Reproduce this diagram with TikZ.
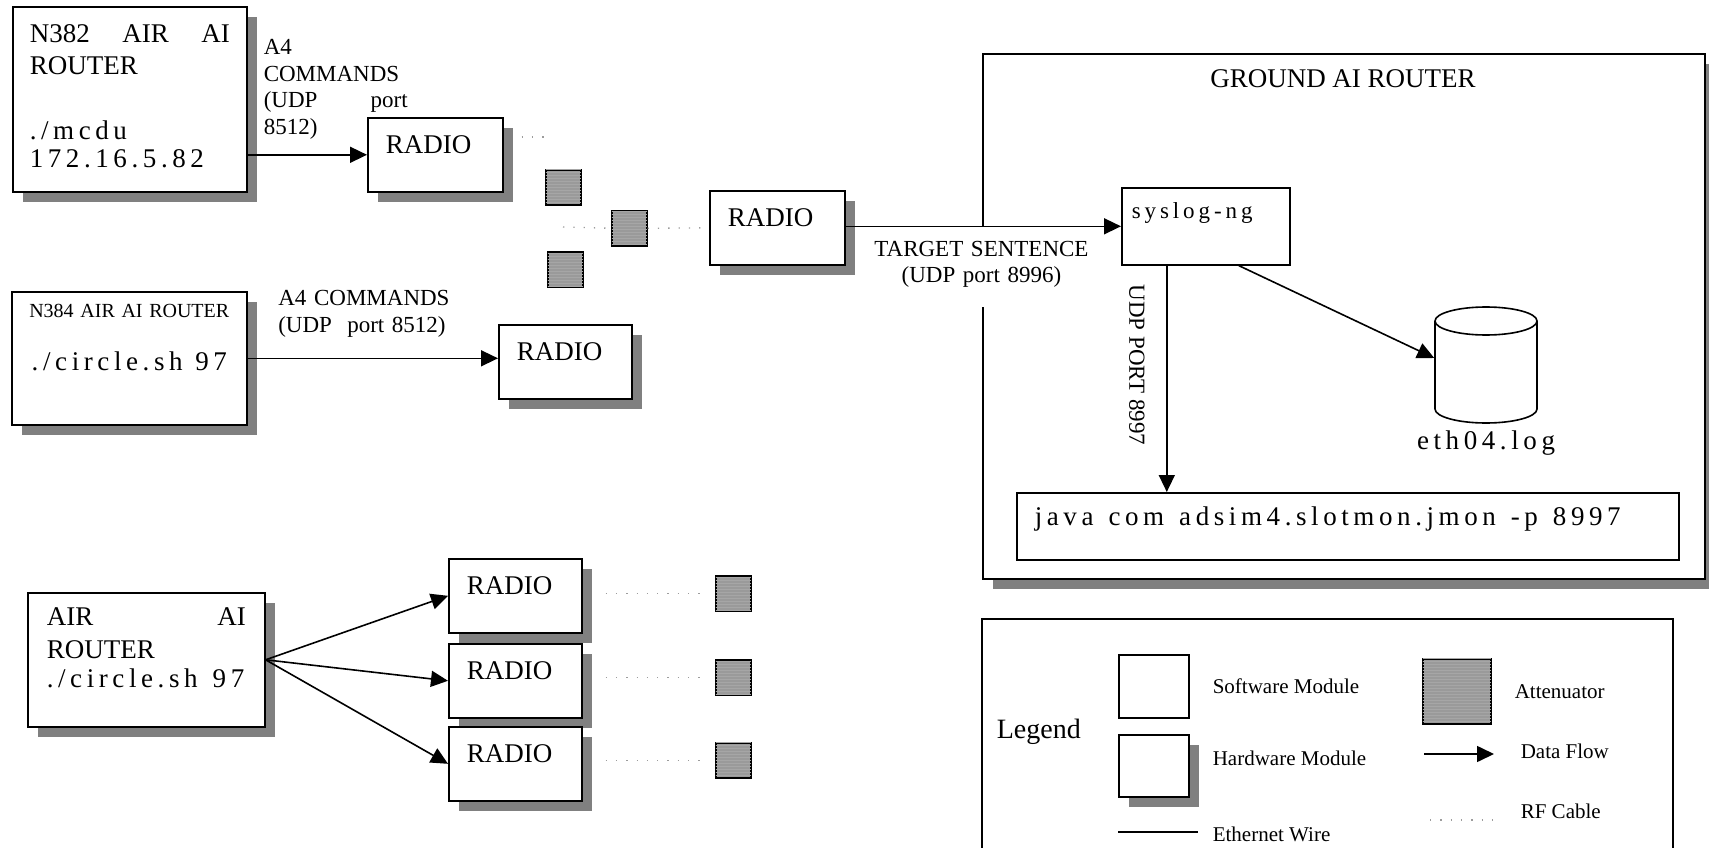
\documentclass[tikz,border=0pt]{standalone}
\usepackage{fontspec}
\setmainfont{Liberation Serif}
\newfontfamily\spacedfont[LetterSpace=17]{Liberation Serif}
\usetikzlibrary{arrows.meta,positioning,shadows,patterns}
\definecolor{Sombra}{HTML}{808080}
\definecolor{Punteado}{HTML}{9C9C9C}
\definecolor{Atenuador}{HTML}{9A9A9A}
\newcommand\boxfont{\fontsize{27}{32}\selectfont}
\newcommand\labelfont{\fontsize{23}{26.5}\selectfont}
\newcommand\smallfont{\fontsize{20}{24}\selectfont}
\newcommand\legendfont{\fontsize{21}{25}\selectfont}
\newcommand\codefont{\fontsize{27}{27}\selectfont\spacedfont}
\newcommand\smallcode{\fontsize{23}{23}\selectfont\spacedfont}
\newcommand\wsp{\hspace{6pt}}

\begin{document}
\begin{tikzpicture}[x=1pt,y=-1pt,>=Latex,line width=1.6pt,every node/.style={inner sep=0pt},
  box/.style={draw,fill=white,anchor=north west,align=left,font=\boxfont},
  hwbox/.style={box,drop shadow={shadow xshift=10pt,shadow yshift=-10pt,fill=Sombra,opacity=1}},
  radio/.style={hwbox,minimum width=135pt,minimum height=74pt,text width=99pt,inner xsep=18pt,text height=18.3pt,text depth=20.3pt},
  att/.style={draw,fill=Atenuador,minimum size=35pt,anchor=north west,postaction={pattern=horizontal lines,pattern color=black!35}},
  flow/.style={-{Triangle[length=17pt,width=16pt]}},
  rf/.style={Punteado,line width=1.3pt,dash pattern=on 1.3pt off 9pt},
  lbl/.style={font=\labelfont,anchor=north west,align=left},
  keytext/.style={font=\legendfont,anchor=base west}]
\useasboundingbox (0,0) rectangle (1709,848);

% air side
\node[hwbox,minimum width=234pt,minimum height=185pt,text width=200pt,inner xsep=17pt,text height=18.3pt,text depth=131.9pt] (n382) at (12,6) {N382\hfill AIR\hfill AI\\ROUTER\\[32.7pt]{\codefont ./mcdu}\\[-3.3pt]{\codefont 172.16.5.82}};
\node[radio] (radioA) at (367,117) {RADIO};
\node[lbl,text width=144pt,text height=15.5pt] (cmd382) at (263,38.5) {A4\\COMMANDS\\(UDP\hfill port\\8512)};
\node[att] (att1) at (545,169) {};
\node[att] (att2) at (611,210) {};
\node[att] (att3) at (547,251) {};
\node[radio] (radioG) at (709,190) {RADIO};
\coordinate (rfend) at (549,137);
\coordinate (rfstart) at (563,227);

\node[hwbox,font=\smallfont,align=center,minimum width=235pt,minimum height=133pt,text width=220pt,text height=13.5pt,text depth=95.1pt] (n384) at (11,291) {N384 AIR AI ROUTER\\[29.3pt]{\codefont ./circle.sh \wsp 97}};
\node[radio,minimum width=133pt,text width=97pt] (radioB) at (498,324) {RADIO};
\node[lbl,text width=180pt,text height=15.5pt] (cmd384) at (277.5,289.5) {A4 COMMANDS\\(UDP~~port 8512)};

\node[hwbox,minimum width=237pt,minimum height=134pt,text width=199pt,inner xsep=19pt,text height=18.3pt,text depth=86.3pt] (air) at (27,592) {AIR\hfill AI\\[1pt]ROUTER\\[-3.3pt]{\codefont ./circle.sh \wsp 97}};
\node[radio,minimum width=133pt,text width=97pt] (radioC1) at (448,558) {RADIO};
\node[radio,minimum width=133pt,text width=97pt] (radioC2) at (448,643) {RADIO};
\node[radio,minimum width=133pt,text width=97pt] (radioC3) at (448,726) {RADIO};
\node[att] (attC1) at (715,575) {};
\node[att] (attC2) at (715,659) {};
\node[att] (attC3) at (715,742) {};

% ground side
\node[hwbox,minimum width=722pt,minimum height=525pt] (ground) at (982,53) {};
\node[font=\boxfont,anchor=base] (gtitle) at (1343,88) {GROUND AI ROUTER};
\node[box,font=\smallcode,minimum width=168pt,minimum height=77pt,text width=148pt,inner xsep=10pt,text height=15.7pt,text depth=30.7pt] (syslog) at (1121,187) {syslog-ng};
\node[minimum width=102pt,minimum height=116pt] (db) at (1486,365) {};
\draw[fill=white] (1435,321) -- (1435,409) arc[start angle=180,end angle=0,x radius=51,y radius=14] -- (1537,321);
\draw[fill=white] (1486,321) ellipse[x radius=51,y radius=14];
\node[font=\codefont,below=6pt of db] (dblabel) {eth04.log};
\node[box,font=\codefont,minimum width=662pt,minimum height=67pt,text width=626pt,inner xsep=18pt,text height=18.4pt,text depth=19.4pt] (jmon) at (1016,492) {java \wsp com \wsp adsim4.slotmon.jmon \wsp -p \wsp 8997};
\node[font=\labelfont,align=center,text width=220pt,fill=white,inner xsep=2pt,inner ysep=15pt,text height=15.5pt,text depth=36pt,anchor=north] (target) at (981.5,225) {TARGET SENTENCE\\(UDP port 8996)};
\node[font=\labelfont,rotate=-90] (udp8997) at (1137,365) {UDP PORT 8997};

% connectors
\draw[flow] (radioA.west -| n382.east) -- (radioA.west);
\draw[rf,shorten <=18pt] (radioA.east |- rfend) -- (rfend);
\draw[rf] (rfstart) -- (att2.west) (att2.east) -- (radioG.west);
\draw[flow] (radioG.east |- syslog.west) -- (syslog.west);
\draw[flow] ([xshift=-39pt]syslog.south) -- ([xshift=-39pt]syslog.south |- jmon.north);
\draw[flow] ([xshift=33pt]syslog.south) -- ([yshift=7pt]db.west);
\draw[flow] (n384.east) -- (n384.east -| radioB.west);
\draw[flow] (air.east) -- (radioC1.west);
\draw[flow] (air.east) -- (radioC2.west);
\draw[flow] (air.east) -- (radioC3.west);
\draw[rf,shorten <=23pt,shorten >=11pt] (radioC1.east |- attC1.west) -- (attC1.west);
\draw[rf,shorten <=23pt,shorten >=11pt] (radioC2.east |- attC2.west) -- (attC2.west);
\draw[rf,shorten <=23pt,shorten >=11pt] (radioC3.east |- attC3.west) -- (attC3.west);

% legend
\draw (982,848) |- (1673,619) -- (1673,848);
\node[font=\fontsize{28}{28}\selectfont,anchor=base west] (legend) at (996,738) {Legend};
\node[box,minimum width=70pt,minimum height=63pt] (swkey) at (1118,654) {};
\node[hwbox,minimum width=70pt,minimum height=62pt] (hwkey) at (1118,734) {};
\node[att,minimum width=68pt,minimum height=65pt] (attkey) at (1422,658) {};
\coordinate (ethA) at (1118,832); \coordinate (ethB) at (1198,832);
\coordinate (flowA) at (1424,754); \coordinate (flowB) at (1494,754);
\coordinate (rfA) at (1430,820); \coordinate (rfB) at (1494,820);
\draw (ethA) -- (ethB);
\draw[flow] (flowA) -- (flowB);
\draw[rf] (rfA) -- (rfB);
\node[keytext] (swtext) at (1212,693) {Software Module};
\node[keytext] (hwtext) at (1212,765) {Hardware Module};
\node[keytext] (ethtext) at (1212,841) {Ethernet Wire};
\node[keytext] (atttext) at (1514,698) {Attenuator};
\node[keytext] (flowtext) at (1520,758) {Data Flow};
\node[keytext] (rftext) at (1520,818) {RF Cable};
\end{tikzpicture}
\end{document}
